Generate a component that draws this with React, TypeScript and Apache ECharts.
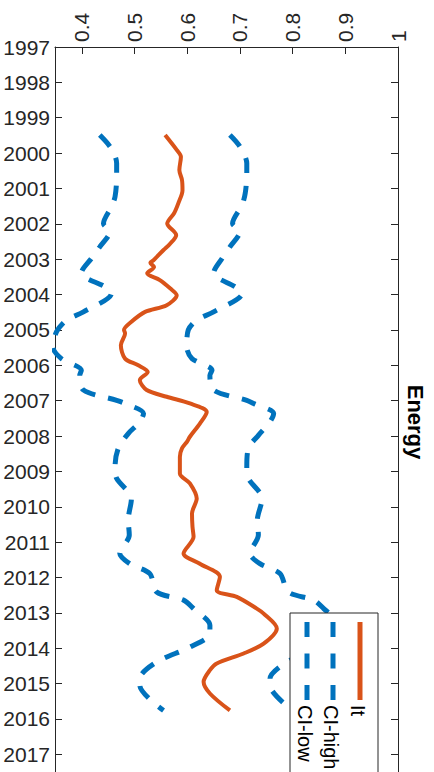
import React, { useEffect, useRef } from "react";
import * as echarts from "echarts";

const yearTicks = [1997, 1998, 1999, 2000, 2001, 2002, 2003, 2004, 2005, 2006, 2007, 2008, 2009, 2010, 2011, 2012, 2013, 2014, 2015, 2016, 2017];
const valueTicks = [0.4, 0.5, 0.6, 0.7, 0.8, 0.9, 1];

const itYears = [1999.49, 1999.91, 2000.1, 2000.48, 2000.76, 2001.05, 2001.42, 2001.7, 2001.99, 2002.32, 2002.57, 2002.74, 2003.03, 2003.1, 2003.22, 2003.4, 2003.59, 2003.83, 2004.02, 2004.3, 2004.49, 2004.77, 2005.0, 2005.1, 2005.43, 2005.81, 2006.0, 2006.19, 2006.42, 2006.7, 2006.89, 2007.08, 2007.32, 2007.65, 2008.02, 2008.15, 2008.35, 2008.59, 2009.06, 2009.34, 2009.77, 2010.19, 2010.57, 2010.85, 2011.32, 2011.61, 2011.98, 2012.36, 2012.55, 2012.88, 2013.02, 2013.44, 2013.87, 2014.15, 2014.43, 2014.62, 2014.95, 2015.28, 2015.76];
const itValues = [0.558, 0.58, 0.588, 0.585, 0.59, 0.591, 0.583, 0.575, 0.562, 0.579, 0.567, 0.555, 0.536, 0.53, 0.537, 0.524, 0.548, 0.568, 0.58, 0.561, 0.52, 0.494, 0.48, 0.482, 0.474, 0.482, 0.507, 0.525, 0.51, 0.523, 0.561, 0.605, 0.637, 0.624, 0.605, 0.6, 0.59, 0.586, 0.586, 0.605, 0.618, 0.609, 0.61, 0.612, 0.593, 0.624, 0.662, 0.656, 0.694, 0.732, 0.745, 0.77, 0.745, 0.707, 0.656, 0.643, 0.631, 0.643, 0.681];

const lowYears = [1999.49, 1999.87, 2000.29, 2000.67, 2001.23, 2001.52, 2001.99, 2002.22, 2002.65, 2002.98, 2003.4, 2003.54, 2003.78, 2003.97, 2004.49, 2004.72, 2005.05, 2005.48, 2005.81, 2006.14, 2006.28, 2006.7, 2006.99, 2007.08, 2007.36, 2007.6, 2007.93, 2008.35, 2008.87, 2009.2, 2009.77, 2010.38, 2010.8, 2011.32, 2011.61, 2011.89, 2012.41, 2012.64, 2012.88, 2013.35, 2013.59, 2013.97, 2014.39, 2014.86, 2015.05, 2015.76];
const lowValues = [0.434, 0.456, 0.466, 0.466, 0.463, 0.456, 0.441, 0.453, 0.434, 0.418, 0.399, 0.409, 0.444, 0.456, 0.403, 0.371, 0.352, 0.345, 0.361, 0.399, 0.396, 0.403, 0.466, 0.482, 0.517, 0.51, 0.488, 0.469, 0.463, 0.466, 0.494, 0.488, 0.49, 0.472, 0.491, 0.529, 0.542, 0.593, 0.612, 0.643, 0.643, 0.605, 0.542, 0.51, 0.51, 0.555];

const highYears = [1999.49, 1999.82, 2000.29, 2000.62, 2001.14, 2001.47, 2001.99, 2002.22, 2002.65, 2002.98, 2003.4, 2003.54, 2003.78, 2003.97, 2004.49, 2004.72, 2005.0, 2005.48, 2005.81, 2006.14, 2006.28, 2006.7, 2006.99, 2007.08, 2007.36, 2007.6, 2007.98, 2008.35, 2008.87, 2009.2, 2009.77, 2010.38, 2010.8, 2011.32, 2011.61, 2011.89, 2012.41, 2012.64, 2012.88, 2013.35, 2013.59, 2013.97, 2014.39, 2014.86, 2015.05, 2015.76];
const highValues = [0.681, 0.7, 0.713, 0.713, 0.71, 0.704, 0.686, 0.7, 0.681, 0.666, 0.65, 0.659, 0.691, 0.704, 0.65, 0.618, 0.602, 0.599, 0.609, 0.647, 0.643, 0.65, 0.713, 0.726, 0.764, 0.757, 0.735, 0.716, 0.713, 0.716, 0.742, 0.733, 0.735, 0.719, 0.738, 0.776, 0.792, 0.84, 0.859, 0.89, 0.89, 0.852, 0.789, 0.757, 0.757, 0.8];

const seriesNames = ["It", "CI-high", "CI-low"];

const RED = "#D95319";
const BLUE = "#0072BD";
const AX = "#262626";
const FONT = "Liberation Sans, Arial, Helvetica, sans-serif";

function zip(xs: number[], ys: number[]) {
  return xs.map((y, i) => [ys[i], y]);
}

export default function App() {
  const ref = useRef<HTMLDivElement>(null);
  useEffect(() => {
    if (!ref.current) return;
    const chart = echarts.init(ref.current, undefined, { renderer: "svg" });
    const axisCommon = {
      axisLine: { show: true, lineStyle: { color: AX, width: 1 } },
      splitLine: { show: false },
    };
    const yBase = {
      type: "value" as const,
      inverse: true,
      min: 1997,
      max: 2017.5,
      ...axisCommon,
      axisTick: { show: true, inside: true, length: 7, lineStyle: { color: AX }, customValues: yearTicks },
    };
    const legendTop = 613;
    const legendItems = [
      { x: 360, name: seriesNames[0], color: RED, dash: null as number[] | null, w: 5 },
      { x: 333, name: seriesNames[1], color: BLUE, dash: [15, 16.5], w: 5 },
      { x: 307, name: seriesNames[2], color: BLUE, dash: [15, 16.5], w: 5 },
    ];
    const legendChildren: any[] = [
      {
        type: "rect",
        z: 100,
        shape: { x: 290, y: legendTop, width: 88, height: 220 },
        style: { fill: "#fff", stroke: AX, lineWidth: 1 },
      },
    ];
    legendItems.forEach((it) => {
      legendChildren.push({
        type: "line",
        z: 101,
        shape: { x1: it.x, y1: 622, x2: it.x, y2: 700 },
        style: { stroke: it.color, lineWidth: it.w, lineDash: it.dash || undefined, lineCap: "butt" },
      });
      legendChildren.push({
        type: "text",
        z: 101,
        x: it.x - 2,
        y: 705,
        rotation: -Math.PI / 2,
        style: { text: it.name, fill: "#000", font: `20px ${FONT}`, textAlign: "left", textVerticalAlign: "middle" },
      });
    });
    chart.setOption({
      animation: false,
      backgroundColor: "#fff",
      grid: { left: 55, right: 36, top: 47, bottom: 0, containLabel: false },
      xAxis: {
        type: "value",
        position: "top",
        min: 0.349,
        max: 1,
        ...axisCommon,
        axisTick: { show: true, inside: true, length: 7, lineStyle: { color: AX }, customValues: valueTicks },
        axisLabel: {
          show: true,
          customValues: valueTicks,
          rotate: -90,
          margin: 5,
          fontSize: 21,
          fontFamily: FONT,
          color: AX,
          formatter: (v: number) => String(Math.round(v * 10) / 10),
        },
      },
      yAxis: [
        {
          ...yBase,
          position: "left",
          axisLabel: { show: true, customValues: yearTicks, margin: 5, fontSize: 21, fontFamily: FONT, color: AX, formatter: (v: number) => String(Math.round(v)) },
        },
        {
          ...yBase,
          position: "right",
          axisLabel: { show: false },
        },
      ],
      series: [
        {
          name: seriesNames[0],
          type: "line",
          data: zip(itYears, itValues),
          showSymbol: false,
          smooth: 0.3,
          lineStyle: { color: RED, width: 4 },
          clip: true,
        },
        {
          name: seriesNames[1],
          type: "line",
          data: zip(highYears, highValues),
          showSymbol: false,
          smooth: 0.3,
          lineStyle: { color: BLUE, width: 5, type: [15, 13], cap: "butt" },
          clip: true,
        },
        {
          name: seriesNames[2],
          type: "line",
          data: zip(lowYears, lowValues),
          showSymbol: false,
          smooth: 0.3,
          lineStyle: { color: BLUE, width: 5, type: [15, 13], cap: "butt" },
          clip: true,
        },
      ],
      graphic: [
        {
          type: "text",
          z: 100,
          x: 415,
          y: 422,
          rotation: -Math.PI / 2,
          style: { text: "Energy", fill: "#000", font: `bold 22px ${FONT}`, textAlign: "center", textVerticalAlign: "middle" },
        },
        { type: "group", z: 100, children: legendChildren },
      ],
    });
    return () => chart.dispose();
  }, []);
  return <div ref={ref} style={{ position: "fixed", left: 0, top: 0, width: 434, height: 772, background: "#fff" }} />;
}
